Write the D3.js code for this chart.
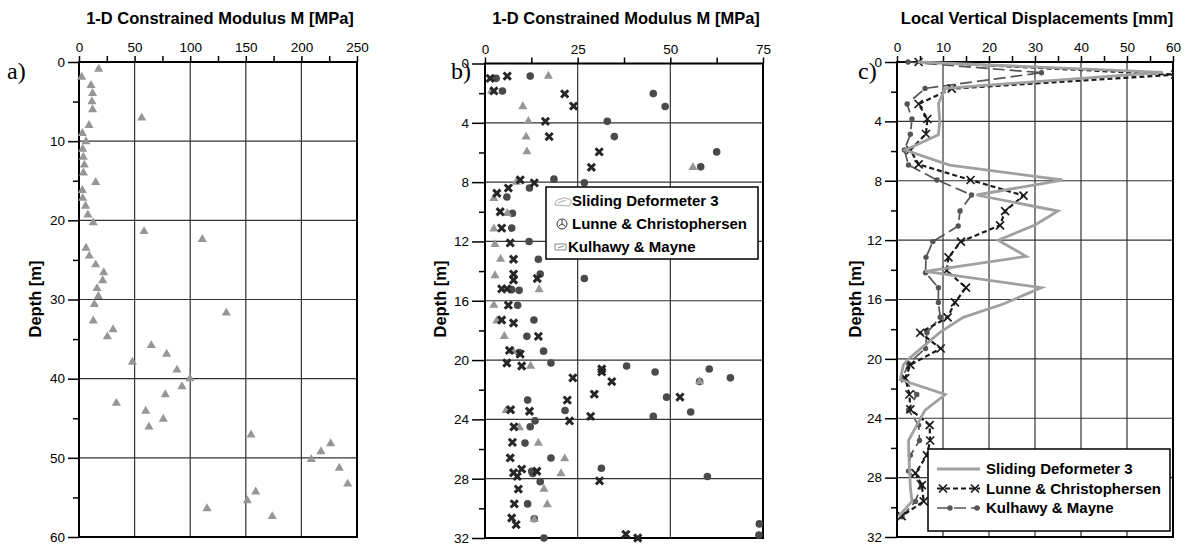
<!DOCTYPE html>
<html>
<head>
<meta charset="utf-8">
<script src="https://cdn.jsdelivr.net/npm/d3@7"></script>
<style>
	body { margin: 0; background: #fff; }
	svg { display: block; }
	text { font-family: 'Liberation Sans', Arial, sans-serif; }
</style>
</head>
<body>
<svg id="chart" width="1184" height="544"></svg>
<script>
// panel a) : [modulus MPa, depth m]
const aSliding = [
	[17.7, 0.9], [2.4, 1.9], [10.8, 2.95], [12.2, 3.95], [11.6, 5], [12.2, 6], [56.4, 7.05],
	[9, 8], [3, 9], [6.3, 10.05], [3.3, 11], [3.9, 12], [4.8, 13], [4, 14], [15, 15.2],
	[3, 16.2], [3.3, 17.2], [5.9, 18.2], [8, 19.3], [12.8, 20.3], [58.5, 21.4], [110.9, 22.4],
	[6.3, 23.5], [9.3, 24.5], [15, 25.6], [22.2, 26.6], [21.3, 27.6], [16.2, 28.6], [17.4, 29.6],
	[13.8, 30.6], [132.5, 31.7], [12.8, 32.7], [30.6, 33.8], [25.5, 34.7], [65, 35.8], [78.8, 36.9],
	[48, 37.9], [88.1, 38.9], [99.8, 40], [92.6, 41], [77.6, 42], [33.6, 43.1], [60, 44.1],
	[75.8, 45.1], [62.9, 46.1], [154.7, 47.1], [226.3, 48.2], [217.6, 49.2], [208.9, 50.2],
	[234.1, 51.3], [241.6, 53.3], [158.9, 54.3], [151.4, 55.4], [115.1, 56.4], [173.8, 57.4]
]

// panel b) : [modulus MPa, depth m]
const bSliding = [
	[17.1, 0.85], [1.8, 1.85], [10.2, 2.9], [11.7, 3.9], [11.1, 4.95], [11.3, 5.95], [56.1, 7],
	[8.5, 8], [2.4, 9.1], [6, 10.1], [2.4, 11.15], [2.7, 12.2], [4.2, 13.2], [2.7, 14.3],
	[14.6, 15.25], [2.4, 16.3], [3.2, 17.35], [5.2, 18.4], [7.6, 19.4], [12.3, 20.4], [57.9, 21.45],
	[5.7, 23.4], [9.3, 24.55], [14.4, 25.6], [21.5, 26.65], [20.5, 27.65], [15.9, 28.7],
	[16.8, 29.75], [13.3, 30.75]
]
const bLunne = [
	[1.4, 1], [6, 0.85], [2.4, 1.85], [21.5, 2.05], [23.9, 2.87], [16.3, 3.9], [17.3, 4.93],
	[30.8, 5.96], [28.7, 7], [9.5, 7.85], [13.3, 8.05], [6.3, 8.4], [3.2, 8.75], [4.1, 10],
	[4.5, 11.1], [6.8, 12.1], [7.7, 13.2], [7.7, 14.2], [7.7, 14.6], [14.1, 14.5], [4.5, 15.2],
	[5.9, 15.2], [6.3, 16.3], [4.5, 17.3], [7.7, 17.5], [14.4, 18.4], [6.6, 19.35], [9.5, 19.6],
	[5.9, 20.2], [9.9, 20.4], [31.5, 20.6], [31.5, 20.8], [23.7, 21.2], [34.2, 21.45], [29.5, 22.3],
	[22.2, 22.7], [52.6, 22.5], [6.9, 23.35], [12, 23.45], [28.5, 23.8], [22.8, 24.1], [7.8, 24.5],
	[7.4, 25.55], [6.8, 26.6], [9.9, 27.35], [7.7, 27.6], [8.7, 27.85], [14, 27.5], [30.9, 28.15],
	[9, 28.7], [7.9, 29.7], [7.2, 30.65], [8.4, 31.1], [38, 31.75], [41.2, 32]
]
const bKulhawy = [
	[3, 1], [12.2, 0.85], [4.7, 1.85], [45.4, 2.03], [48.6, 2.9], [33, 3.9], [34.9, 4.93],
	[62.5, 5.96], [58.2, 6.97], [18.6, 7.8], [26.8, 8.05], [12, 8.4], [5.9, 9], [7.4, 10.1],
	[7.2, 11.1], [11.9, 12], [14.4, 13.2], [14.9, 14.2], [26.8, 14.5], [7.2, 15.25], [9.2, 15.3],
	[8.8, 16.3], [13.2, 17.3], [11.3, 18.4], [9.2, 19.5], [15.8, 19.4], [17.8, 20.2], [38.2, 20.4],
	[45.9, 20.8], [60.5, 20.6], [57.9, 21.45], [66.2, 21.2], [49, 22.5], [11.5, 22.7], [21.6, 23.4],
	[45.4, 23.8], [55.5, 23.5], [13.5, 24.1], [12.2, 24.5], [10.8, 25.6], [17.8, 26.6], [12.6, 27.5],
	[12.9, 27.65], [31.4, 27.3], [60, 27.85], [14.9, 28.2], [11.5, 29.7], [13.3, 30.7], [15.9, 32],
	[74, 31.05], [73.9, 31.8]
]

// panel c) : [displacement mm, depth m]
const cSliding = [
	[4.5, 0], [57.8, 0.7], [10.5, 1.77], [9, 2.8], [9.3, 4], [9, 4.9], [1.8, 5.93], [11.4, 6.94],
	[36, 7.95], [17.3, 8.96], [35, 10.04], [30, 10.98], [22, 12], [28.1, 13.1], [6.1, 14.1],
	[31.4, 15.2], [23.1, 16.3], [14.4, 17.2], [9.4, 18.2], [2.5, 20], [1.4, 20.4], [0.7, 21.4],
	[10.5, 22.4], [6.1, 23.45], [2.5, 25.5], [2.6, 26.6], [2.9, 28.6], [3.25, 29.6], [0.4, 30.6]
]
const cLunne = [
	[4.7, 0], [60.5, 0.85], [11.9, 1.8], [4.7, 2.83], [6.6, 3.84], [6.3, 4.85], [2.9, 5.93],
	[4.7, 6.9], [16, 7.95], [27.5, 9], [23.5, 10.04], [22.4, 11], [13.9, 12.1], [11.2, 13.16],
	[10.8, 14.06], [15, 15.2], [12.6, 16.2], [11, 17.2], [5.05, 18.24], [9.5, 19.3], [2.9, 20.4],
	[1.8, 21.3], [2.7, 22.4], [2.9, 23.4], [7.1, 24.46], [7.2, 25.5], [6.5, 26.5], [4, 27.7],
	[5.4, 28.5], [5.8, 29.6], [1, 30.6]
]
const cKulhawy = [
	[2.4, 0], [31.4, 0.72], [6.1, 1.78], [2.2, 2.83], [3.25, 3.84], [2.9, 4.87], [1.6, 5.93],
	[2.5, 6.94], [8.7, 7.95], [16.2, 8.96], [13.7, 10.04], [13.3, 11.05], [7.8, 12.1], [6.3, 13.16],
	[6.2, 14.2], [9, 15.2], [9, 16.2], [9.4, 17.2], [6.5, 18.24], [6.2, 19.3], [2.5, 20.3],
	[1.2, 21.3], [4.3, 22.4], [2.5, 23.45], [4.7, 24.46], [4.9, 25.5], [2.9, 26.5], [2.5, 27.56],
	[5.3, 28.5], [4, 29.6], [1.1, 30.64]
]

const legendNames = ['Sliding Deformeter 3', 'Lunne & Christophersen', 'Kulhawy & Mayne']

const svg = d3.select('#chart')
const xPath = 'M-4,-4L4,4M-4,4L4,-4'

/**
 * Draw frame, grid, axes and labels of one panel, return its scales
 */
function drawPanel(cfg) {
	const g = svg.append('g')
	const x = d3.scaleLinear().domain(cfg.xDomain).range([cfg.left, cfg.right])
	const y = d3.scaleLinear().domain(cfg.yDomain).range([cfg.top, cfg.bottom])

	// grid
	g.selectAll('.vgrid')
		.data(cfg.xMajor.slice(1, -1))
		.enter().append('line')
		.attr('x1', d => x(d)).attr('x2', d => x(d))
		.attr('y1', cfg.top).attr('y2', cfg.bottom)
		.attr('stroke', '#333').attr('stroke-width', 1.2)
	g.selectAll('.hgrid')
		.data(cfg.yMajor.slice(1, -1))
		.enter().append('line')
		.attr('y1', d => y(d)).attr('y2', d => y(d))
		.attr('x1', cfg.left).attr('x2', cfg.right)
		.attr('stroke', '#333').attr('stroke-width', 1.2)

	// axes
	const axTop = g.append('g')
		.attr('transform', `translate(0,${cfg.top})`)
		.call(d3.axisTop(x).tickValues(cfg.xMajor).tickSize(6).tickPadding(4))
	const axTopMinor = g.append('g')
		.attr('transform', `translate(0,${cfg.top})`)
		.call(d3.axisTop(x).tickValues(cfg.xMinor).tickSize(6).tickFormat(''))
	const axLeft = g.append('g')
		.attr('transform', `translate(${cfg.left},0)`)
		.call(d3.axisLeft(y).tickValues(cfg.yMajor).tickSize(cfg.yTick).tickPadding(3))
	const axLeftMinor = g.append('g')
		.attr('transform', `translate(${cfg.left},0)`)
		.call(d3.axisLeft(y).tickValues(cfg.yMinor).tickSize(6).tickFormat(''))
	;[axTop, axTopMinor, axLeft, axLeftMinor].forEach(a => {
		a.select('.domain').remove()
		a.selectAll('line').attr('stroke', '#000').attr('stroke-width', 1.5)
		a.selectAll('text')
			.attr('fill', '#000')
			.style('font-family', "'Liberation Sans', Arial, sans-serif")
			.style('font-size', '13.5px')
	})

	// frame
	g.append('rect')
		.attr('x', cfg.left).attr('y', cfg.top)
		.attr('width', cfg.right - cfg.left).attr('height', cfg.bottom - cfg.top)
		.attr('fill', 'none').attr('stroke', '#000').attr('stroke-width', 2)

	// title
	g.append('text')
		.attr('x', (cfg.left + cfg.right) / 2 + 2).attr('y', 24)
		.attr('text-anchor', 'middle')
		.style('font-weight', 'bold').style('font-size', '16.5px')
		.text(cfg.title)

	// depth label
	g.append('text')
		.attr('transform', `translate(${cfg.depthX},299) rotate(-90)`)
		.attr('text-anchor', 'middle')
		.attr('dy', '0.35em')
		.style('font-weight', 'bold').style('font-size', '16.5px')
		.text('Depth [m]')

	// panel letter
	g.append('text')
		.attr('x', cfg.labelX).attr('y', 79)
		.style('font-family', "'Liberation Serif', 'Times New Roman', serif")
		.style('font-size', '24px')
		.text(cfg.label)

	return { g, x, y }
}

// ---- panel a
const pa = drawPanel({
	left: 79, right: 357, top: 62, bottom: 537,
	xDomain: [0, 250], yDomain: [0, 60],
	xMajor: [0, 50, 100, 150, 200, 250], xMinor: [25, 75, 125, 175, 225],
	yMajor: [0, 10, 20, 30, 40, 50, 60], yMinor: [5, 15, 25, 35, 45, 55], yTick: 11,
	title: '1-D Constrained Modulus M [MPa]', label: 'a)', labelX: 7, depthX: 35
})
const tri = d3.symbol(d3.symbolTriangle, 36)
pa.g.selectAll('.tri')
	.data(aSliding)
	.enter().append('path')
	.attr('d', tri)
	.attr('transform', d => `translate(${pa.x(d[0])},${pa.y(d[1])})`)
	.attr('fill', '#969696')

// ---- panel b
const pb = drawPanel({
	left: 485, right: 763, top: 63.5, bottom: 538,
	xDomain: [0, 75], yDomain: [0, 32],
	xMajor: [0, 25, 50, 75], xMinor: [12.5, 37.5, 62.5],
	yMajor: [0, 4, 8, 12, 16, 20, 24, 28, 32], yMinor: [2, 6, 10, 14, 18, 22, 26, 30], yTick: 13,
	title: '1-D Constrained Modulus M [MPa]', label: 'b)', labelX: 451, depthX: 440
})
pb.g.selectAll('.kul')
	.data(bKulhawy)
	.enter().append('circle')
	.attr('cx', d => pb.x(d[0])).attr('cy', d => pb.y(d[1]))
	.attr('r', 3.8)
	.attr('fill', '#4a4a4a')
pb.g.selectAll('.tri')
	.data(bSliding)
	.enter().append('path')
	.attr('d', tri)
	.attr('transform', d => `translate(${pb.x(d[0])},${pb.y(d[1])})`)
	.attr('fill', '#969696')
pb.g.selectAll('.lun')
	.data(bLunne)
	.enter().append('path')
	.attr('d', 'M-3.6,-3.6L3.6,3.6M-3.6,3.6L3.6,-3.6')
	.attr('transform', d => `translate(${pb.x(d[0])},${pb.y(d[1])})`)
	.attr('stroke', '#262626').attr('stroke-width', 3).attr('fill', 'none')

// legend b
const lb = pb.g.append('g')
lb.append('rect')
	.attr('x', 546).attr('y', 187).attr('width', 212).attr('height', 72)
	.attr('fill', '#fff').attr('stroke', '#000').attr('stroke-width', 1.5)
lb.selectAll('.lt')
	.data(legendNames)
	.enter().append('text')
	.attr('x', (d, i) => [572, 572, 568][i])
	.attr('y', (d, i) => 201 + i * 23)
	.attr('dy', '0.35em')
	.style('font-weight', 'bold').style('font-size', '15px')
	.text(d => d)
// small icons
lb.append('path')
	.attr('d', 'M555,205 q0,-6 6,-6 q3,-3 7,0 q4,0 3,4 l-2,3 z M558,203 l8,-3')
	.attr('fill', 'none').attr('stroke', '#aaa').attr('stroke-width', 1)
const ic = lb.append('g').attr('transform', 'translate(562,224)')
ic.append('circle').attr('r', 5).attr('fill', 'none').attr('stroke', '#333').attr('stroke-width', 1)
ic.append('path').attr('d', 'M0,0L0,-4M0,0L3.4,2.2M0,0L-3.4,2.2')
	.attr('stroke', '#333').attr('stroke-width', 1)
lb.append('path')
	.attr('d', 'M555,250 l0,-6 l11,0 l0,6 z M558,248 l6,-2')
	.attr('fill', 'none').attr('stroke', '#888').attr('stroke-width', 1)

// ---- panel c
const pc = drawPanel({
	left: 897, right: 1173, top: 62, bottom: 537,
	xDomain: [0, 60], yDomain: [0, 32],
	xMajor: [0, 10, 20, 30, 40, 50, 60], xMinor: [5, 15, 25, 35, 45, 55],
	yMajor: [0, 4, 8, 12, 16, 20, 24, 28, 32], yMinor: [2, 6, 10, 14, 18, 22, 26, 30], yTick: 12,
	title: 'Local Vertical Displacements [mm]', label: 'c)', labelX: 858, depthX: 855
})
svg.append('clipPath').attr('id', 'clipC')
	.append('rect').attr('x', 880).attr('y', 50).attr('width', 294).attr('height', 495)
const cl = pc.g.append('g').attr('clip-path', 'url(#clipC)')
const line = d3.line().x(d => pc.x(d[0])).y(d => pc.y(d[1]))

cl.append('path').datum(cKulhawy)
	.attr('d', line).attr('fill', 'none')
	.attr('stroke', '#555').attr('stroke-width', 1.7).attr('stroke-dasharray', '12,5')
cl.selectAll('.kc')
	.data(cKulhawy)
	.enter().append('circle')
	.attr('cx', d => pc.x(d[0])).attr('cy', d => pc.y(d[1]))
	.attr('r', 2.7).attr('fill', '#555')
cl.append('path').datum(cLunne)
	.attr('d', line).attr('fill', 'none')
	.attr('stroke', '#1a1a1a').attr('stroke-width', 2.2).attr('stroke-dasharray', '5,3')
cl.selectAll('.lc')
	.data(cLunne)
	.enter().append('path')
	.attr('d', xPath)
	.attr('transform', d => `translate(${pc.x(d[0])},${pc.y(d[1])})`)
	.attr('stroke', '#1a1a1a').attr('stroke-width', 1.7).attr('fill', 'none')
cl.append('path').datum(cSliding)
	.attr('d', line).attr('fill', 'none')
	.attr('stroke', '#a0a0a0').attr('stroke-width', 2.8)

// legend c
const lc = pc.g.append('g')
lc.append('rect')
	.attr('x', 928).attr('y', 449).attr('width', 242).attr('height', 82)
	.attr('fill', '#fff').attr('stroke', '#000').attr('stroke-width', 1.5)
lc.selectAll('.lt')
	.data(legendNames)
	.enter().append('text')
	.attr('x', 986)
	.attr('y', (d, i) => 469 + i * 19.5)
	.attr('dy', '0.35em')
	.style('font-weight', 'bold').style('font-size', '15px')
	.text(d => d)
lc.append('line')
	.attr('x1', 937).attr('x2', 980).attr('y1', 469).attr('y2', 469)
	.attr('stroke', '#a0a0a0').attr('stroke-width', 2.8)
lc.append('line')
	.attr('x1', 937).attr('x2', 980).attr('y1', 488.5).attr('y2', 488.5)
	.attr('stroke', '#1a1a1a').attr('stroke-width', 2.2).attr('stroke-dasharray', '5,3')
lc.selectAll('.lx')
	.data([943, 975])
	.enter().append('path')
	.attr('d', xPath)
	.attr('transform', d => `translate(${d},488.5)`)
	.attr('stroke', '#1a1a1a').attr('stroke-width', 1.7).attr('fill', 'none')
lc.append('line')
	.attr('x1', 937).attr('x2', 980).attr('y1', 508).attr('y2', 508)
	.attr('stroke', '#555').attr('stroke-width', 1.7).attr('stroke-dasharray', '12,5')
lc.selectAll('.lk')
	.data([950, 977])
	.enter().append('circle')
	.attr('cx', d => d).attr('cy', 508).attr('r', 2.7).attr('fill', '#555')
</script>
</body>
</html>
